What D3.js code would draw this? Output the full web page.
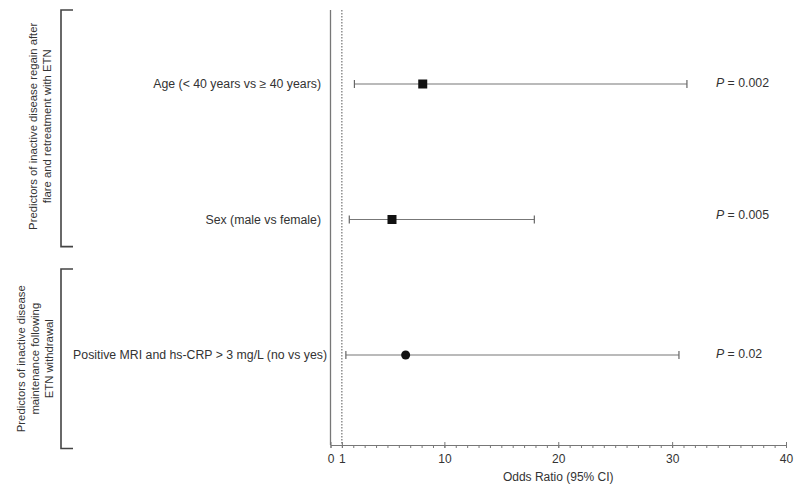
<!DOCTYPE html>
<html>
<head>
<meta charset="UTF-8">
<title>Odds ratio forest plot</title>
<style>
  body { margin: 0; background: #fff; }
  svg { font-family: "Liberation Sans", Arial, sans-serif; }
  .axis text { font-size: 12px; fill: #333; }
  .axis path, .axis line { stroke: #777; }
</style>
</head>
<body>
<div id="chart"></div>
<script src="https://d3js.org/d3.v7.min.js"></script>
<script>
// data
const labels = [
  "Age (< 40 years vs \u2265 40 years)",
  "Sex (male vs female)",
  "Positive MRI and hs-CRP > 3 mg/L (no vs yes)"
];
const oddsRatio = [8.1, 5.4, 6.6];
const ciLow = [2.1, 1.65, 1.35];
const ciHigh = [31.3, 17.9, 30.6];
const markers = ["square", "square", "circle"];
const pValues = ["0.002", "0.005", "0.02"];
const rowPos = [1, 2, 3];
const pRowPos = [1, 1.97, 3];
const tickValues = [0, 1, 10, 20, 30, 40];
const groups = [
  { lines: ["Predictors of inactive disease regain after", "flare and retreatment with ETN"], from: 0, to: 2.2 },
  { lines: ["Predictors of inactive disease", "maintenance following", "ETN withdrawal"], from: 2.365, to: 3.69 }
];

const width = 794, height = 489;
const svg = d3.select("#chart").append("svg")
  .attr("width", width).attr("height", height);

// scales
const x = d3.scaleLinear().domain([0, 40]).range([330.5, 786]);
const y = d3.scaleLinear().domain([1, 3]).range([84, 355]);
const axisY = 445, topY = 10;

// vertical y axis line and reference line at 1
svg.append("line")
  .attr("x1", x(0)).attr("x2", x(0))
  .attr("y1", topY).attr("y2", axisY)
  .attr("stroke", "#777").attr("stroke-width", 1.3);
svg.append("line")
  .attr("x1", x(1)).attr("x2", x(1))
  .attr("y1", topY).attr("y2", axisY)
  .attr("stroke", "#555").attr("stroke-width", 1)
  .attr("stroke-dasharray", "1.5,1.5");

// x axis with minor ticks
const minor = d3.range(0, 41, 1);
svg.append("g")
  .attr("class", "axis")
  .attr("transform", `translate(0,${axisY})`)
  .call(d3.axisBottom(x).tickValues(minor).tickSize(3).tickFormat(""))
  .call(g => g.select(".domain").remove());
svg.append("g")
  .attr("class", "axis")
  .attr("transform", `translate(0,${axisY})`)
  .call(d3.axisBottom(x).tickValues(tickValues).tickSize(6).tickSizeOuter(0)
    .tickFormat(d3.format("d")))
  .call(g => g.selectAll(".tick line").attr("y1", -3).attr("y2", 3))
  .call(g => g.selectAll(".tick text").attr("y", 9));

svg.append("text")
  .attr("x", x(20)).attr("y", 481)
  .attr("text-anchor", "middle")
  .attr("font-size", 12).attr("fill", "#333")
  .text("Odds Ratio (95% CI)");

// rows
const rows = svg.selectAll(".row")
  .data(labels.map((l, i) => ({ label: l, or: oddsRatio[i], lo: ciLow[i], hi: ciHigh[i], m: markers[i], p: pValues[i], r: rowPos[i], pr: pRowPos[i] })))
  .enter().append("g").attr("class", "row");

rows.append("line")
  .attr("x1", d => x(d.lo)).attr("x2", d => x(d.hi))
  .attr("y1", d => y(d.r)).attr("y2", d => y(d.r))
  .attr("stroke", "#777").attr("stroke-width", 1.2);
rows.append("line")
  .attr("x1", d => x(d.lo)).attr("x2", d => x(d.lo))
  .attr("y1", d => y(d.r) - 4).attr("y2", d => y(d.r) + 4)
  .attr("stroke", "#666").attr("stroke-width", 1.2);
rows.append("line")
  .attr("x1", d => x(d.hi)).attr("x2", d => x(d.hi))
  .attr("y1", d => y(d.r) - 4).attr("y2", d => y(d.r) + 4)
  .attr("stroke", "#666").attr("stroke-width", 1.2);

rows.filter(d => d.m === "square").append("rect")
  .attr("x", d => x(d.or) - 4.5).attr("y", d => y(d.r) - 4.5)
  .attr("width", 9).attr("height", 9).attr("fill", "#111");
rows.filter(d => d.m === "circle").append("circle")
  .attr("cx", d => x(d.or)).attr("cy", d => y(d.r))
  .attr("r", 4.5).attr("fill", "#111");

// the last label sits a little closer to the axis in the original
rows.append("text")
  .attr("x", (d, i) => i === 2 ? 327 : 321)
  .attr("y", d => y(d.r)).attr("dy", "0.35em")
  .attr("text-anchor", "end").attr("font-size", 12.3).attr("fill", "#333")
  .text(d => d.label);

const pt = rows.append("text")
  .attr("x", 716).attr("y", d => y(d.pr) - 1).attr("dy", "0.35em")
  .attr("font-size", 12.3).attr("fill", "#333");
pt.append("tspan").attr("font-style", "italic").text("P");
pt.append("tspan").text(d => " = " + d.p);

// group brackets and rotated labels
const bx = 61, armX = 73;
groups.forEach((g, i) => {
  const y0 = i === 0 ? topY : y(g.from), y1 = y(g.to);
  svg.append("path")
    .attr("d", `M${armX},${y0}H${bx}V${y1}H${armX}`)
    .attr("fill", "none").attr("stroke", "#444").attr("stroke-width", 1.6);
  const cy = (y0 + y1) / 2 - (i === 0 ? 2 : 0);
  const n = g.lines.length;
  const t = svg.append("text")
    .attr("transform", `translate(${i === 0 ? 40 : 35},${cy}) rotate(-90)`)
    .attr("text-anchor", "middle").attr("font-size", 11.3).attr("fill", "#333");
  g.lines.forEach((l, j) => {
    t.append("tspan").attr("x", 0)
      .attr("y", (j - (n - 1) / 2) * 14.3)
      .attr("dy", "0.35em").text(l);
  });
});
</script>
</body>
</html>
